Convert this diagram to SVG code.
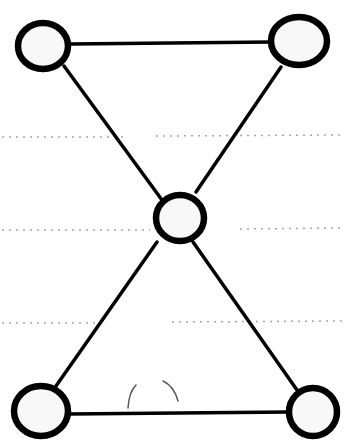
<svg xmlns="http://www.w3.org/2000/svg" width="344" height="444" viewBox="0 0 344 444">
<style>
.node{fill:#f8f8f8;stroke:#000;stroke-width:6.5}
.edge{stroke:#000;stroke-width:3.5;fill:none;stroke-linecap:round}
.dot{stroke:#a8a8a8;stroke-width:1.5;stroke-dasharray:2 5;fill:none}
.mark{stroke:#555;stroke-width:1.5;fill:none;stroke-linecap:round}
</style>
<rect width="344" height="444" fill="#fff"/>
<g id="guides">
<line class="dot" x1="2" y1="137" x2="128" y2="137"/>
<line class="dot" x1="156" y1="136" x2="342" y2="135"/>
<line class="dot" x1="2" y1="230" x2="150" y2="230"/>
<line class="dot" x1="240" y1="229" x2="342" y2="228"/>
<line class="dot" x1="2" y1="323" x2="95" y2="323"/>
<line class="dot" x1="172" y1="322" x2="342" y2="321"/>
</g>
<g id="connectors">
<line class="edge" x1="70" y1="44" x2="272" y2="42"/>
<line class="edge" x1="64" y1="66" x2="162" y2="200"/>
<line class="edge" x1="281" y1="67" x2="196" y2="192"/>
<line class="edge" x1="157" y1="242" x2="56" y2="386"/>
<line class="edge" x1="193" y1="242" x2="297" y2="390"/>
<line class="edge" x1="68" y1="414" x2="290" y2="412"/>
</g>
<path class="mark" d="M128 408 Q129 392 136 385"/>
<path class="mark" d="M163 381 Q174 386 178 401"/>
<g id="n1"><ellipse class="node" cx="43" cy="46" rx="25" ry="23"/></g>
<g id="n2"><ellipse class="node" cx="299" cy="41" rx="28" ry="24"/></g>
<g id="n3"><ellipse class="node" cx="180" cy="218" rx="24" ry="23"/></g>
<g id="n4"><ellipse class="node" cx="41" cy="411" rx="27" ry="25"/></g>
<g id="n5"><ellipse class="node" cx="313" cy="412" rx="24" ry="24"/></g>
</svg>
